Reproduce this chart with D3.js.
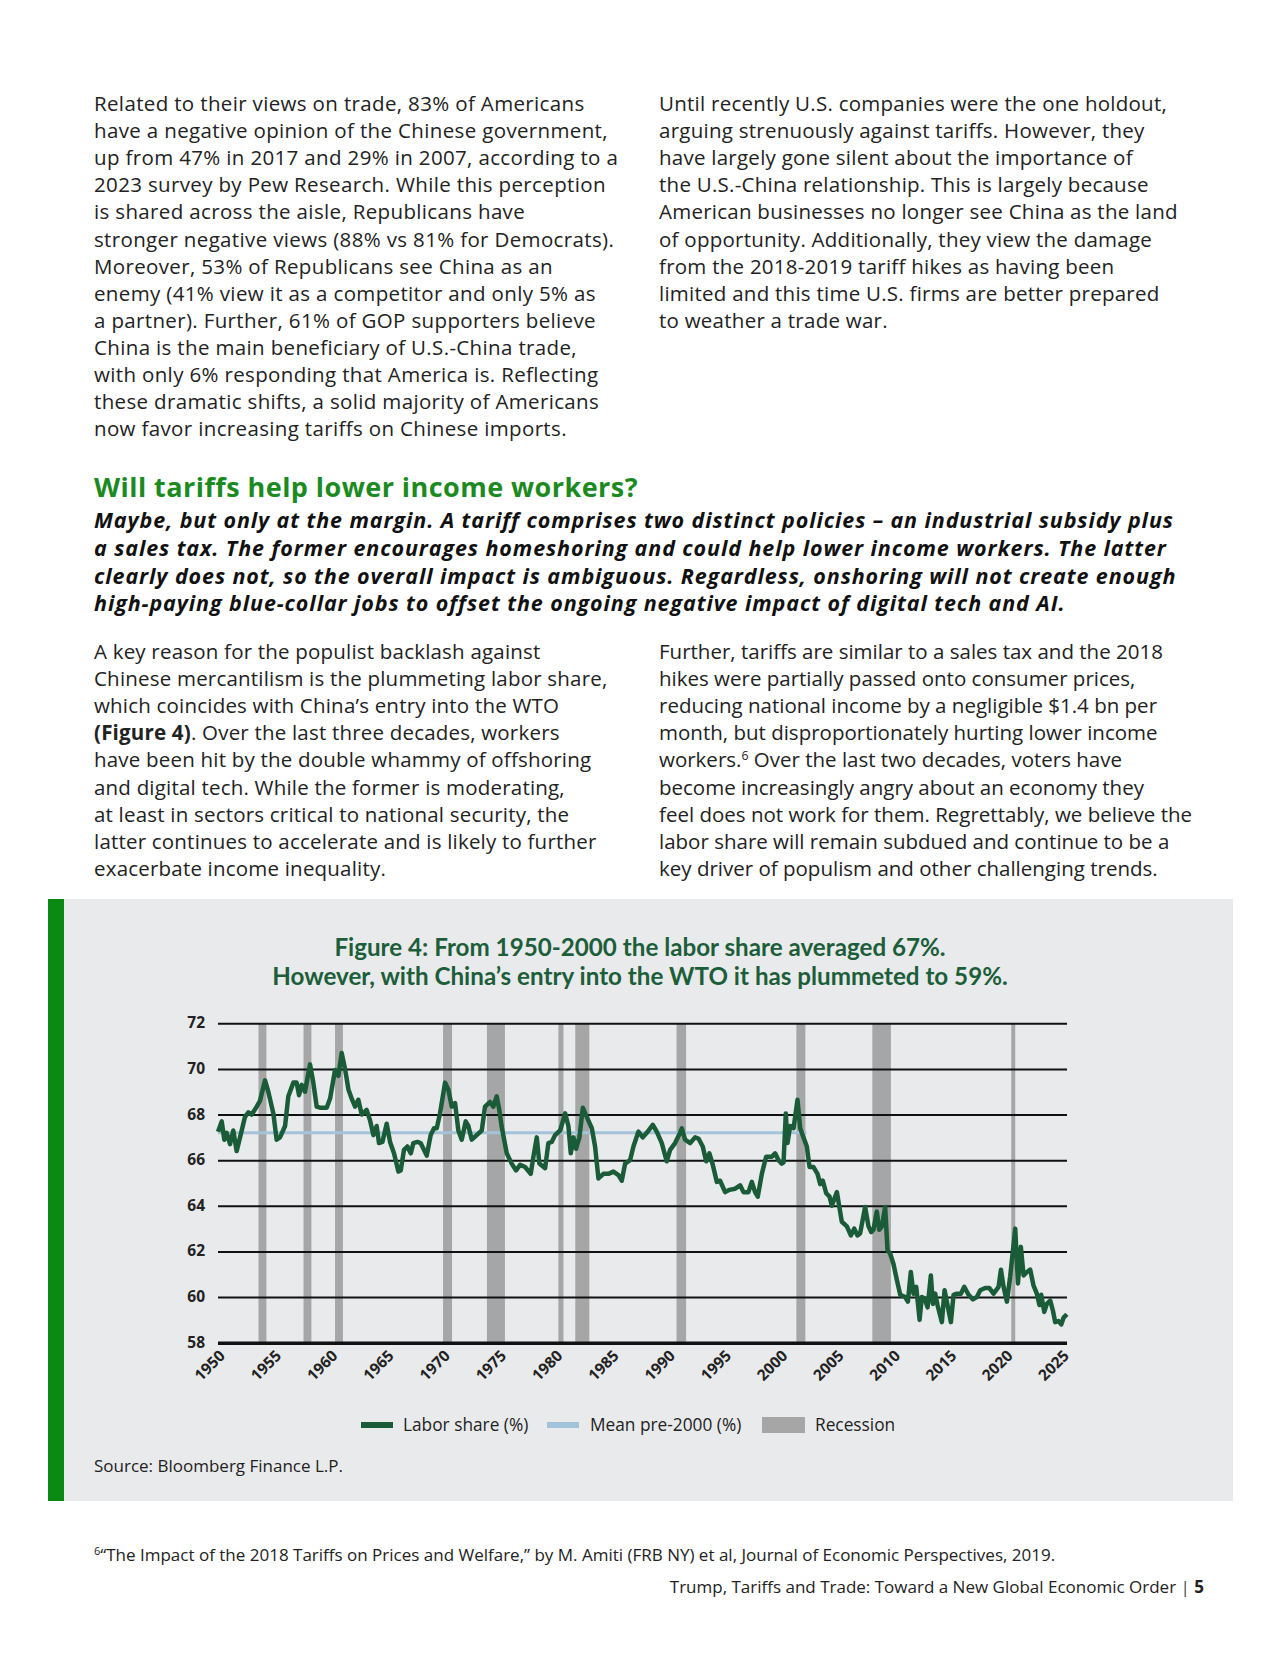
<!DOCTYPE html>
<html>
<head>
<meta charset="utf-8">
<script src="https://cdn.jsdelivr.net/npm/d3@7"></script>
<style>
  body { margin: 0; background: #fff; }
  svg text { font-family: "Open Sans", "Noto Sans", sans-serif; }
  svg text.lato { font-family: Lato, "Open Sans", sans-serif; }
</style>
</head>
<body>
<div id="page"></div>
<script>
// Labor share (%), year (decimal) and value
const shareYears = [
  1950.0, 1950.33, 1950.56, 1950.77, 1951.07, 1951.36, 1951.66, 1951.96, 1952.4, 1952.7,
  1953.0, 1953.44, 1953.73, 1954.18, 1954.47, 1954.92, 1955.21, 1955.51, 1955.96, 1956.25,
  1956.7, 1956.99, 1957.2, 1957.44, 1957.73, 1958.18, 1958.47, 1958.77, 1959.07, 1959.66,
  1959.96, 1960.4, 1960.7, 1960.99, 1961.29, 1961.59, 1961.88, 1962.18, 1962.47, 1962.77,
  1963.21, 1963.51, 1963.81, 1964.1, 1964.31, 1964.61, 1964.99, 1965.29, 1965.64, 1966.03,
  1966.24, 1966.53, 1966.83, 1967.13, 1967.36, 1967.72, 1968.01, 1968.55, 1968.9, 1969.2,
  1969.44, 1969.73, 1970.18, 1970.47, 1970.77, 1971.07, 1971.36, 1971.66, 1972.01, 1972.25,
  1972.55, 1972.99, 1973.44, 1973.73, 1974.18, 1974.47, 1974.77, 1975.0, 1975.2, 1975.66,
  1976.1, 1976.49, 1976.85, 1977.29, 1977.79, 1978.03, 1978.33, 1978.56, 1979.07, 1979.36,
  1979.66, 1979.96, 1980.4, 1980.85, 1981.14, 1981.35, 1981.59, 1981.82, 1982.12, 1982.42,
  1982.77, 1983.22, 1983.51, 1983.81, 1984.25, 1984.7, 1985.14, 1985.59, 1985.88, 1986.18,
  1986.62, 1986.92, 1987.36, 1987.75, 1988.1, 1988.64, 1988.99, 1989.44, 1989.88, 1990.18,
  1990.62, 1991.07, 1991.22, 1991.51, 1991.96, 1992.4, 1992.7, 1993.08, 1993.38, 1993.67,
  1993.97, 1994.33, 1994.62, 1995.07, 1995.45, 1995.96, 1996.4, 1996.7, 1997.14, 1997.44,
  1997.73, 1997.97, 1998.33, 1998.71, 1999.22, 1999.51, 1999.81, 2000.1, 2000.26, 2000.46,
  2000.61, 2000.85, 2001.15, 2001.5, 2001.74, 2002.03, 2002.33, 2002.57, 2002.92, 2003.28,
  2003.52, 2003.75, 2004.05, 2004.35, 2004.55, 2005.0, 2005.44, 2005.89, 2006.24, 2006.54,
  2006.83, 2007.07, 2007.51, 2007.81, 2008.05, 2008.25, 2008.55, 2008.76, 2009.0, 2009.29,
  2009.5, 2009.74, 2010.03, 2010.33, 2010.63, 2011.07, 2011.31, 2011.57, 2011.81, 2012.05,
  2012.35, 2012.55, 2012.79, 2013.06, 2013.35, 2013.53, 2013.74, 2013.94, 2014.33, 2014.57,
  2014.83, 2015.13, 2015.37, 2015.66, 2016.02, 2016.32, 2016.7, 2017.09, 2017.44, 2017.74,
  2018.18, 2018.54, 2018.92, 2019.37, 2019.58, 2019.81, 2020.11, 2020.4, 2020.85, 2021.09,
  2021.35, 2021.59, 2021.89, 2022.18, 2022.48, 2022.77, 2023.0, 2023.16, 2023.43, 2023.66,
  2023.96, 2024.2, 2024.4, 2024.7, 2024.94, 2025.15, 2025.44
];
const shareValues = [
  67.25, 67.7, 66.9, 67.2, 66.7, 67.3, 66.4, 67.0, 67.9, 68.1,
  68.0, 68.35, 68.6, 69.5, 69.0, 68.05, 66.9, 67.0, 67.5, 68.8,
  69.4, 69.4, 68.85, 69.3, 69.0, 70.2, 69.4, 68.35, 68.3, 68.3,
  68.7, 69.95, 69.7, 70.7, 70.0, 69.1, 68.7, 68.35, 68.65, 68.0,
  68.2, 67.75, 67.1, 67.5, 66.75, 66.8, 67.6, 66.8, 66.3, 65.5,
  65.55, 66.45, 66.6, 66.3, 66.75, 66.8, 66.75, 66.2, 67.1, 67.4,
  67.4, 68.05, 69.4, 69.1, 68.35, 68.5, 67.3, 66.9, 67.7, 67.5,
  66.9, 67.1, 67.3, 68.35, 68.55, 68.35, 68.8, 68.2, 67.5, 66.3,
  65.85, 65.55, 65.8, 65.7, 65.4, 66.15, 67.0, 65.85, 65.65, 66.75,
  66.8, 67.1, 67.3, 68.05, 67.5, 66.3, 67.0, 66.5, 67.0, 68.3,
  67.9, 67.4, 66.6, 65.2, 65.4, 65.4, 65.5, 65.35, 65.1, 65.85,
  66.0, 66.6, 67.25, 67.0, 67.2, 67.55, 67.25, 66.75, 65.95, 66.45,
  66.75, 67.2, 67.4, 66.9, 66.75, 67.0, 66.95, 66.6, 65.95, 66.3,
  65.8, 65.05, 65.1, 64.6, 64.7, 64.75, 64.9, 64.6, 64.6, 65.05,
  64.6, 64.4, 65.4, 66.15, 66.15, 66.3, 66.0, 65.85, 65.9, 68.05,
  66.75, 67.5, 67.4, 68.65, 67.4, 67.0, 66.6, 65.7, 65.7, 65.4,
  64.95, 65.1, 64.55, 64.4, 64.0, 64.6, 63.3, 63.1, 62.7, 63.0,
  62.7, 62.8, 63.95, 63.1, 62.85, 62.95, 63.75, 62.95, 63.1, 63.95,
  62.05, 61.9, 61.45, 60.75, 60.1, 60.0, 59.8, 61.1, 60.15, 60.45,
  59.0, 60.0, 59.95, 59.55, 60.95, 59.7, 60.15, 59.65, 58.9, 60.3,
  59.65, 58.9, 60.1, 60.15, 60.15, 60.45, 60.1, 59.9, 60.0, 60.3,
  60.4, 60.4, 60.15, 60.45, 61.2, 60.45, 59.8, 60.9, 63.0, 60.6,
  62.2, 60.95, 61.1, 61.2, 60.5, 60.15, 59.65, 60.1, 59.35, 59.7,
  59.85, 59.4, 58.9, 58.95, 58.8, 59.1, 59.25
];
// Mean pre-2000 line
const meanValue = 67.2;
const meanStart = 1950;
const meanEnd = 2002.3;
// Recession bands (start, end)
const recessionStarts = [1953.6, 1957.6, 1960.4, 1970.0, 1973.9, 1980.25, 1981.75, 1990.75, 2001.4, 2008.15, 2020.5];
const recessionEnds   = [1954.3, 1958.3, 1961.1, 1970.8, 1975.5, 1980.7, 1983.0, 1991.6, 2002.2, 2009.8, 2020.85];
// Axis ticks
const yTicks = [58, 60, 62, 64, 66, 68, 70, 72];
const xTicks = [1950, 1955, 1960, 1965, 1970, 1975, 1980, 1985, 1990, 1995, 2000, 2005, 2010, 2015, 2020, 2025];
const legendLabels = ["Labor share (%)", "Mean pre-2000 (%)", "Recession"];

// Page text
const para1Left = [
  "Related to their views on trade, 83% of Americans",
  "have a negative opinion of the Chinese government,",
  "up from 47% in 2017 and 29% in 2007, according to a",
  "2023 survey by Pew Research. While this perception",
  "is shared across the aisle, Republicans have",
  "stronger negative views (88% vs 81% for Democrats).",
  "Moreover, 53% of Republicans see China as an",
  "enemy (41% view it as a competitor and only 5% as",
  "a partner). Further, 61% of GOP supporters believe",
  "China is the main beneficiary of U.S.-China trade,",
  "with only 6% responding that America is. Reflecting",
  "these dramatic shifts, a solid majority of Americans",
  "now favor increasing tariffs on Chinese imports."
];
const para1Right = [
  "Until recently U.S. companies were the one holdout,",
  "arguing strenuously against tariffs. However, they",
  "have largely gone silent about the importance of",
  "the U.S.-China relationship. This is largely because",
  "American businesses no longer see China as the land",
  "of opportunity. Additionally, they view the damage",
  "from the 2018-2019 tariff hikes as having been",
  "limited and this time U.S. firms are better prepared",
  "to weather a trade war."
];
const heading = "Will tariffs help lower income workers?";
const subLines = [
  "Maybe, but only at the margin. A tariff comprises two distinct policies \u2013 an industrial subsidy plus",
  "a sales tax. The former encourages homeshoring and could help lower income workers. The latter",
  "clearly does not, so the overall impact is ambiguous. Regardless, onshoring will not create enough",
  "high-paying blue-collar jobs to offset the ongoing negative impact of digital tech and AI."
];
const para2Left = [
  "A key reason for the populist backlash against",
  "Chinese mercantilism is the plummeting labor share,",
  "which coincides with China\u2019s entry into the WTO",
  [["(Figure 4)", true], [". Over the last three decades, workers", false]],
  "have been hit by the double whammy of offshoring",
  "and digital tech. While the former is moderating,",
  "at least in sectors critical to national security, the",
  "latter continues to accelerate and is likely to further",
  "exacerbate income inequality."
];
const para2Right = [
  "Further, tariffs are similar to a sales tax and the 2018",
  "hikes were partially passed onto consumer prices,",
  "reducing national income by a negligible $1.4 bn per",
  "month, but disproportionately hurting lower income",
  [["workers.", false], ["6", "sup"], [" Over the last two decades, voters have", "down"]],
  "become increasingly angry about an economy they",
  "feel does not work for them. Regrettably, we believe the",
  "labor share will remain subdued and continue to be a",
  "key driver of populism and other challenging trends."
];
const chartTitle = [
  "Figure 4: From 1950-2000 the labor share averaged 67%.",
  "However, with China\u2019s entry into the WTO it has plummeted to 59%."
];
const sourceText = "Source: Bloomberg Finance L.P.";
const footnote = "\u201CThe Impact of the 2018 Tariffs on Prices and Welfare,\u201D by M. Amiti (FRB NY) et al, Journal of Economic Perspectives, 2019.";
const footerText = "Trump, Tariffs and Trade: Toward a New Global Economic Order";

const W = 1280, H = 1656;
const svg = d3.select("#page").append("svg")
    .attr("width", W)
    .attr("height", H);

svg.append("rect").attr("width", W).attr("height", H).attr("fill", "#fff");

// Draw a block of lines; a line may be a string or a list of [text, style] parts
function drawLines(lines, x, y0, lh, size, color, weight, style, spacing) {
    lines.forEach(function (line, i) {
        let t = svg.append("text")
            .attr("x", x)
            .attr("y", y0 + i * lh)
            .attr("font-size", size)
            .attr("fill", color)
            .attr("font-weight", weight || 400)
            .attr("font-style", style || "normal")
            .attr("letter-spacing", spacing || 0);
        if (typeof line === "string") {
            t.text(line);
        } else {
            line.forEach(function (p) {
                let s = t.append("tspan").text(p[0]);
                if (p[1] === true) s.attr("font-weight", 700);
                if (p[1] === "sup") s.attr("font-size", size * 0.6).attr("dy", -7);
                if (p[1] === "down") s.attr("dy", 7);
            });
        }
    });
}

const bodyColor = "#222";
drawLines(para1Left, 94, 111, 27.1, 20.5, bodyColor, 400, "normal", 0.35);
drawLines(para1Right, 659, 111, 27.1, 20.5, bodyColor, 400, "normal", 0.25);

svg.append("text")
    .attr("x", 94).attr("y", 497)
    .attr("font-size", 27).attr("font-weight", 700)
    .attr("letter-spacing", 0.45)
    .attr("fill", "#1b8a1f")
    .text(heading);

drawLines(subLines, 94, 528, 27.8, 21.5, "#111", 700, "italic", 0.9);

drawLines(para2Left, 94, 659, 27.1, 20.5, bodyColor, 400, "normal", 0.2);
drawLines(para2Right, 659, 659, 27.1, 20.5, bodyColor, 400, "normal", 0);

// Chart panel
svg.append("rect")
    .attr("x", 48).attr("y", 899)
    .attr("width", 1185).attr("height", 602)
    .attr("fill", "#e9eaec");
svg.append("rect")
    .attr("x", 48).attr("y", 899)
    .attr("width", 16).attr("height", 602)
    .attr("fill", "#0a8a12");

chartTitle.forEach(function (s, i) {
    svg.append("text")
        .attr("class", "lato")
        .attr("x", 640).attr("y", 956 + i * 29)
        .attr("text-anchor", "middle")
        .attr("font-size", 24.2).attr("font-weight", 700)
        .attr("fill", "#1d5e3a")
        .text(s);
});

// Scales
let x = d3.scaleLinear().domain([1950, 2025.45]).range([218, 1067]);
let y = d3.scaleLinear().domain([58, 72]).range([1342.7, 1023.3]);

// Recession bands
svg.append("g").selectAll("rect")
    .data(recessionStarts)
    .enter().append("rect")
    .attr("x", d => x(d))
    .attr("y", y(72))
    .attr("width", (d, i) => x(recessionEnds[i]) - x(d))
    .attr("height", y(58) - y(72))
    .attr("fill", "#a6a6a6");

// Gridlines
svg.append("g")
    .attr("transform", "translate(218,0)")
    .call(d3.axisLeft(y).tickValues(yTicks).tickSize(-(1067 - 218)).tickFormat(""))
    .call(g => g.select(".domain").remove())
    .call(g => g.selectAll("line")
        .attr("stroke", "#111")
        .attr("stroke-width", d => d === 58 ? 3.5 : 2));

// Y tick labels
svg.append("g").selectAll("text")
    .data(yTicks)
    .enter().append("text")
    .attr("x", 205)
    .attr("y", d => y(d) + 5)
    .attr("text-anchor", "end")
    .attr("font-size", 15.5).attr("font-weight", 700)
    .attr("fill", "#222")
    .text(d => d);

// X axis labels, rotated
svg.append("g").selectAll("text")
    .data(xTicks)
    .enter().append("text")
    .attr("transform", d => "translate(" + (x(d) + 8) + "," + (y(58) + 14) + ") rotate(-45)")
    .attr("text-anchor", "end")
    .attr("font-size", 15.5).attr("font-weight", 700)
    .attr("fill", "#222")
    .text(d => d);

// Mean pre-2000 line
svg.append("line")
    .attr("x1", x(meanStart)).attr("x2", x(meanEnd))
    .attr("y1", y(meanValue)).attr("y2", y(meanValue))
    .attr("stroke", "#a3c3d8")
    .attr("stroke-width", 3);

// Labor share line
let series = shareYears.map((t, i) => ({ t: t, v: shareValues[i] }));
let line = d3.line()
    .x(d => x(d.t))
    .y(d => y(d.v));
svg.append("path")
    .datum(series)
    .attr("d", line)
    .attr("fill", "none")
    .attr("stroke", "#1b5c38")
    .attr("stroke-width", 4.5)
    .attr("stroke-linejoin", "round");

// Legend
let legend = svg.append("g").attr("transform", "translate(0,1425)");
legend.append("rect").attr("x", 361).attr("y", -3).attr("width", 32).attr("height", 6).attr("fill", "#1b5c38");
legend.append("rect").attr("x", 547).attr("y", -3).attr("width", 32).attr("height", 6).attr("fill", "#a3c3d8");
legend.append("rect").attr("x", 762).attr("y", -8).attr("width", 43).attr("height", 16).attr("fill", "#a6a6a6");
[403, 590, 815].forEach(function (lx, i) {
    legend.append("text")
        .attr("x", lx).attr("y", 6)
        .attr("font-size", 17.3)
        .attr("fill", "#222")
        .text(legendLabels[i]);
});

svg.append("text")
    .attr("x", 94).attr("y", 1472)
    .attr("font-size", 17).attr("fill", "#222")
    .text(sourceText);

// Footnote and footer
let fn = svg.append("text")
    .attr("x", 94).attr("y", 1561)
    .attr("font-size", 17).attr("fill", "#222");
fn.append("tspan").text("6").attr("font-size", 11).attr("dy", -6);
fn.append("tspan").text(footnote).attr("dy", 6);

let ft = svg.append("text")
    .attr("x", 1204).attr("y", 1593)
    .attr("text-anchor", "end")
    .attr("font-size", 17).attr("fill", "#222");
ft.append("tspan").text(footerText);
ft.append("tspan").text("  |  ").attr("fill", "#444");
ft.append("tspan").text("5").attr("font-weight", 700);
</script>
</body>
</html>
